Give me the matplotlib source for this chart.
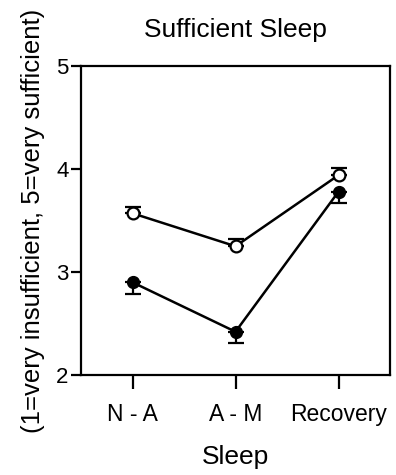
import matplotlib
matplotlib.use("Agg")
import matplotlib.pyplot as plt

plt.rcParams['font.family'] = ['Liberation Sans', 'DejaVu Sans']

conditions = ["N - A", "A - M", "Recovery"]
open_mean = [3.57, 3.25, 3.94]
open_err = [0.06, 0.07, 0.07]
filled_mean = [2.90, 2.42, 3.78]
filled_err = [0.11, 0.11, 0.11]

fig = plt.figure(figsize=(3.96, 4.75), dpi=100)
ax = fig.add_axes([81 / 396, 1 - 375 / 475, 309 / 396, 309 / 475])

x = range(len(conditions))

# open circles: error bar drawn upward only
ax.errorbar(x, open_mean, yerr=[[0] * 3, open_err], color="black", lw=1.8,
            marker="o", ms=8.5, mfc="white", mec="black", mew=1.6,
            capsize=6, capthick=1.6, elinewidth=1.6, zorder=3)
# filled circles: error bar drawn downward only
ax.errorbar(x, filled_mean, yerr=[filled_err, [0] * 3], color="black", lw=1.8,
            marker="o", ms=8.5, mfc="black", mec="black",
            capsize=6, capthick=1.6, elinewidth=1.6, zorder=3)

ax.set_xlim(-0.5, 2.5)
ax.set_ylim(2, 5)
ax.set_yticks([2, 3, 4, 5])
ax.set_xticks(list(x))
ax.set_xticklabels(conditions)

for s in ax.spines.values():
    s.set_linewidth(1.6)
ax.tick_params(direction="out", width=1.6)
ax.tick_params(axis="y", length=7, pad=2, labelsize=16)
ax.tick_params(axis="x", length=10, pad=10, labelsize=16.5)

ax.set_title("Sufficient Sleep", fontsize=19, pad=21)
ax.set_xlabel("Sleep", fontsize=19, labelpad=14)
ax.set_ylabel("(1=very insufficient, 5=very sufficient)", fontsize=18.5, labelpad=8)

fig.savefig("out.png", dpi=100)
